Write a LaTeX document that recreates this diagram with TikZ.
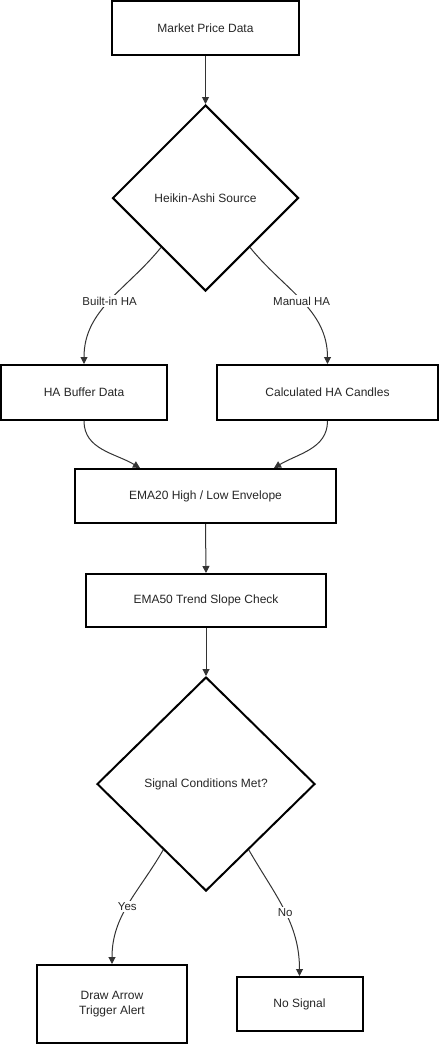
\documentclass[tikz,border=0pt]{standalone}
\usepackage{fontspec}
\setmainfont{Liberation Sans}
\usetikzlibrary{shapes.geometric,arrows.meta}
\tikzset{
  box/.style={draw=black, line width=2pt, fill=white, inner sep=0pt, align=center, font=\fontsize{12}{14.5}\selectfont, text=black!85},
  dec/.style={draw=black, line width=2pt, fill=white, diamond, inner sep=0pt, font=\fontsize{12}{14.5}\selectfont, text=black!85},
  conn/.style={draw=black!80, line width=1pt, -{Triangle[length=7pt,width=7pt]}},
  lbl/.style={fill=white, inner sep=1.5pt, font=\fontsize{11.5}{13}\selectfont, text=black!85}
}
\begin{document}
\begin{tikzpicture}[x=1pt,y=-1pt]
\useasboundingbox (0,0) rectangle (439,1044);
\node[box, minimum width=187pt, minimum height=54pt] (mpd) at (205.5,28) {Market Price Data};
\node[dec, minimum width=186pt, minimum height=186pt] (d1) at (205.5,198) {Heikin-Ashi Source};
\node[box, minimum width=166pt, minimum height=55pt] (hab) at (84,392.5) {HA Buffer Data};
\node[box, minimum width=221pt, minimum height=55pt] (cha) at (327.5,392.5) {Calculated HA Candles};
\node[box, minimum width=261pt, minimum height=54pt] (ema20) at (205.5,496) {EMA20 High / Low Envelope};
\node[box, minimum width=240pt, minimum height=53pt] (ema50) at (206,600.5) {EMA50 Trend Slope Check};
\node[dec, minimum width=218pt, minimum height=214pt] (d2) at (206,784) {Signal Conditions Met?};
\node[box, minimum width=150pt, minimum height=78pt] (draw) at (112,1004) {Draw Arrow\\Trigger Alert};
\node[box, minimum width=126pt, minimum height=54pt] (nos) at (299.5,1004) {No Signal};

\draw[conn] (mpd.south) -- (d1.north);
\draw[conn] (d1.-132) to[out=-129, in=90] node[lbl, pos=0.5] {Built-in HA} (hab.north);
\draw[conn] (d1.-48) to[out=-51, in=90] node[lbl, pos=0.5] {Manual HA} (cha.north);
\draw[conn] (hab.south) to[out=-90, in=149] ([xshift=-65.5pt]ema20.north);
\draw[conn] (cha.south) to[out=-90, in=31] ([xshift=68.5pt]ema20.north);
\draw[conn] (ema20.south) -- (ema50.north);
\draw[conn] (ema50.south) -- (d2.north);
\draw[conn] (d2.-123) to[out=-120, in=90] node[lbl, pos=0.52] {Yes} (draw.north);
\draw[conn] (d2.-57) to[out=-60, in=90] node[lbl, pos=0.52] {No} (nos.north);
\end{tikzpicture}
\end{document}
